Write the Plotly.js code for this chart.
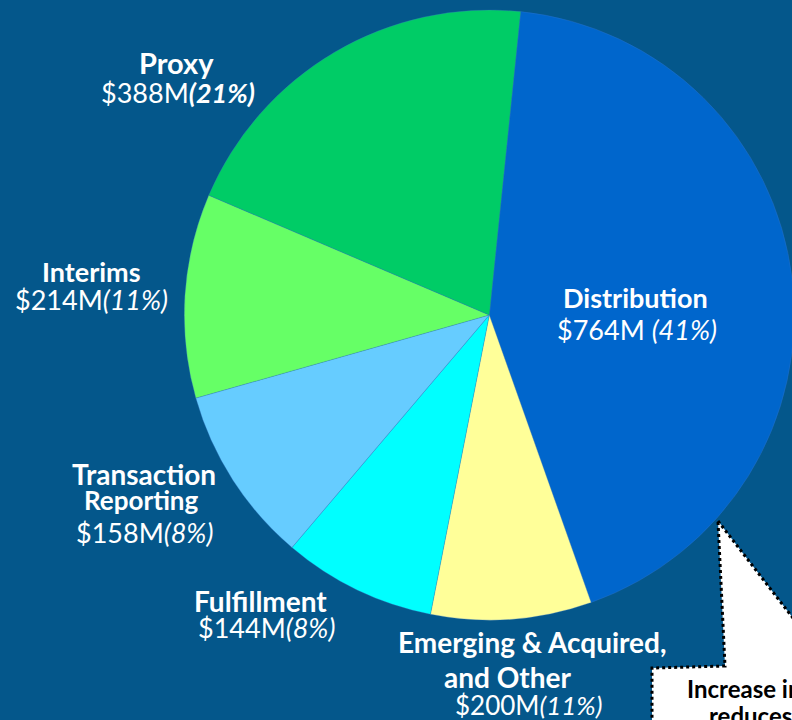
<!DOCTYPE html>
<html>
<head>
<meta charset="utf-8">
<script src="https://cdn.plot.ly/plotly-3.0.1.min.js"></script>
<style>
html,body{margin:0;padding:0;overflow:hidden;background:#04578B;width:792px;height:720px;}
#chart{width:820px;height:720px;}
</style>
</head>
<body>
<div id="chart"></div>
<script>
// Segment names (clockwise from the top)
const categories = ["Distribution", "Emerging & Acquired, and Other", "Fulfillment", "Transaction Reporting", "Interims", "Proxy"];
// Slice shares as drawn in the picture (percent of the circle)
const sliceShares = [42.9, 8.5, 8.1, 9.4, 10.8, 20.2];
// Revenue labels as printed
const amountLabels = ["$764M", "$200M", "$144M", "$158M", "$214M", "$388M"];
const pctLabels = ["41%", "11%", "8%", "8%", "11%", "21%"];
const sliceColors = ["#0066CC", "#FFFF99", "#00FFFF", "#66CCFF", "#66FF66", "#00CC66"];

const W = 820, H = 720;
const px = x => x / W;
const py = y => 1 - y / H;

const cx = 489.3, cy = 315, R = 305;

const FONT = "Lato, 'Open Sans', sans-serif";

function ann(text, x, y, size, opts) {
  return Object.assign({
    text: text, x: px(x), y: py(y), xref: "paper", yref: "paper",
    showarrow: false, xanchor: "center", yanchor: "middle", borderpad: 0,
    font: {family: FONT, size: size, color: "#FFFFFF"}
  }, opts || {});
}
function val(i, sep, boldPct) {
  const p = "<i>(" + pctLabels[i] + ")</i>";
  return amountLabels[i] + (sep || "") + (boldPct ? "<b>" + p + "</b>" : p);
}

const annotations = [
  ann("<b>Proxy</b>", 176, 62, 29),
  ann(val(5, "", true), 178, 93, 27),
  ann("<b>Interims</b>", 91, 271, 27),
  ann(val(4), 91, 299, 27),
  ann("<b>Distribution</b>", 635, 297, 27),
  ann(val(0, " "), 637, 330, 27),
  ann("<b>Transaction</b>", 144, 474, 28),
  ann("<b>Reporting</b>", 141, 500, 26),
  ann(val(3), 144, 532, 27),
  ann("<b>Fulfillment</b>", 260, 601, 28),
  ann(val(2), 266, 627, 27),
  ann("<b>Emerging &amp; Acquired,</b>", 532, 642, 28),
  ann("<b>and Other</b>", 507, 677, 28),
  ann(val(1), 528, 705, 26),
  ann("<b>Increase in</b>", 686, 688, 24, {xanchor: "left", font: {family: FONT, size: 24, color: "#000000"}}),
  ann("<b>reduces</b>", 708, 715, 24, {xanchor: "left", font: {family: FONT, size: 24, color: "#000000"}})
];

const calloutPts = [[718, 521], [820, 653], [820, 740], [652, 740], [652, 668], [725, 666]];
const calloutPath = "M " + calloutPts.map(p => px(p[0]) + "," + py(p[1])).join(" L ") + " Z";

const data = [{
  type: "pie",
  labels: categories,
  values: sliceShares,
  sort: false,
  direction: "clockwise",
  rotation: 5.9,
  textinfo: "none",
  hoverinfo: "label",
  marker: {colors: sliceColors, line: {width: 0.5, color: "rgba(60,120,200,0.6)"}},
  domain: {x: [px(cx - R), px(cx + R)], y: [py(cy + R), py(cy - R)]},
  showlegend: false
}];

const layout = {
  width: W, height: H,
  margin: {l: 0, r: 0, t: 0, b: 0},
  paper_bgcolor: "#04578B",
  plot_bgcolor: "#04578B",
  showlegend: false,
  annotations: annotations,
  shapes: [{
    type: "path", path: calloutPath, xref: "paper", yref: "paper",
    fillcolor: "#FFFFFF", line: {color: "#000000", width: 3, dash: "dot"}, layer: "above"
  }]
};

Plotly.newPlot("chart", data, layout, {displayModeBar: false, staticPlot: true});
</script>
</body>
</html>
